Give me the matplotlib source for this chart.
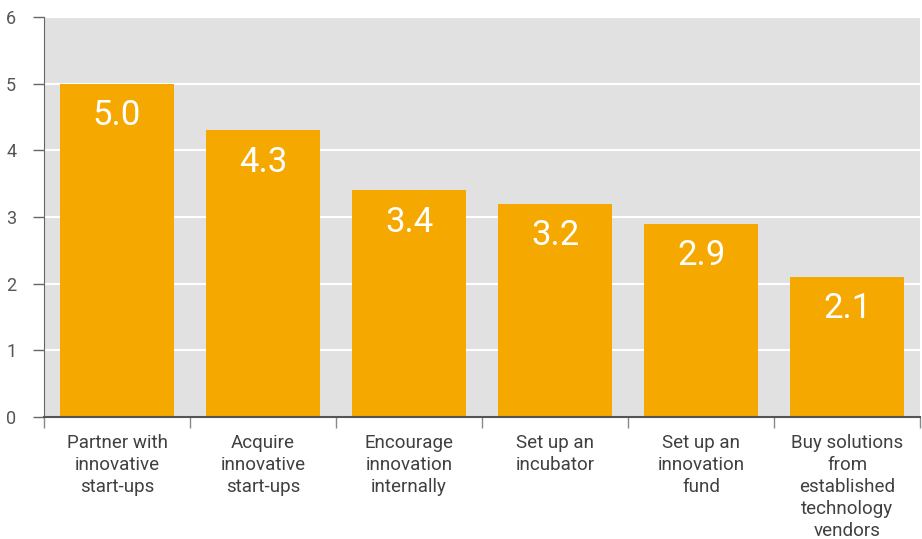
import numpy as np
import matplotlib
matplotlib.use("Agg")
import matplotlib.pyplot as plt

categories = [
    "Partner with\ninnovative\nstart-ups",
    "Acquire\ninnovative\nstart-ups",
    "Encourage\ninnovation\ninternally",
    "Set up an\nincubator",
    "Set up an\ninnovation\nfund",
    "Buy solutions\nfrom\nestablished\ntechnology\nvendors",
]
scores = [5.0, 4.3, 3.4, 3.2, 2.9, 2.1]
y_ticks = [0, 1, 2, 3, 4, 5, 6]

bar_color = "#F5A800"
bg_color = "#E1E1E1"
text_color = "#404040"

plt.rcParams["font.family"] = ["Roboto", "DejaVu Sans"]

fig = plt.figure(figsize=(9.22, 5.39), dpi=100)
ax = fig.add_axes([0.0477, 0.2263, 0.9505, 0.7422])
ax.set_facecolor(bg_color)

x = np.arange(len(categories))
ax.bar(x, scores, width=0.78, color=bar_color, zorder=3)

for xi, v in zip(x, scores):
    ax.annotate(f"{v:.1f}", (xi, v), xytext=(0, -11), textcoords="offset points",
                ha="center", va="top", color="white", fontsize=25,
                fontweight="normal", zorder=4)

ax.set_xlim(-0.5, len(categories) - 0.5)
ax.set_ylim(0, 6)
ax.set_yticks(y_ticks)
ax.yaxis.grid(True, color="white", linewidth=1.5, zorder=1)
ax.set_axisbelow(True)

# labels sit at bar centres, tick marks at the category boundaries
ax.set_xticks(x)
ax.set_xticklabels(categories, fontsize=13.5, color=text_color, linespacing=1.3)
ax.tick_params(axis="x", which="major", length=0, pad=12)
ax.set_xticks(np.arange(len(categories) + 1) - 0.5, minor=True)
ax.tick_params(axis="x", which="minor", length=8, width=1, color="#888888",
               direction="out")
ax.tick_params(axis="y", length=8, width=1, color="#666666", direction="out",
               labelsize=13, labelcolor="#555555", pad=12)

for side in ["top", "right"]:
    ax.spines[side].set_visible(False)
ax.spines["left"].set_color("#666666")
ax.spines["bottom"].set_color("#555555")
ax.spines["bottom"].set_linewidth(1.5)
ax.spines["bottom"].set_zorder(5)

fig.savefig("out.png", dpi=100, facecolor="white")
